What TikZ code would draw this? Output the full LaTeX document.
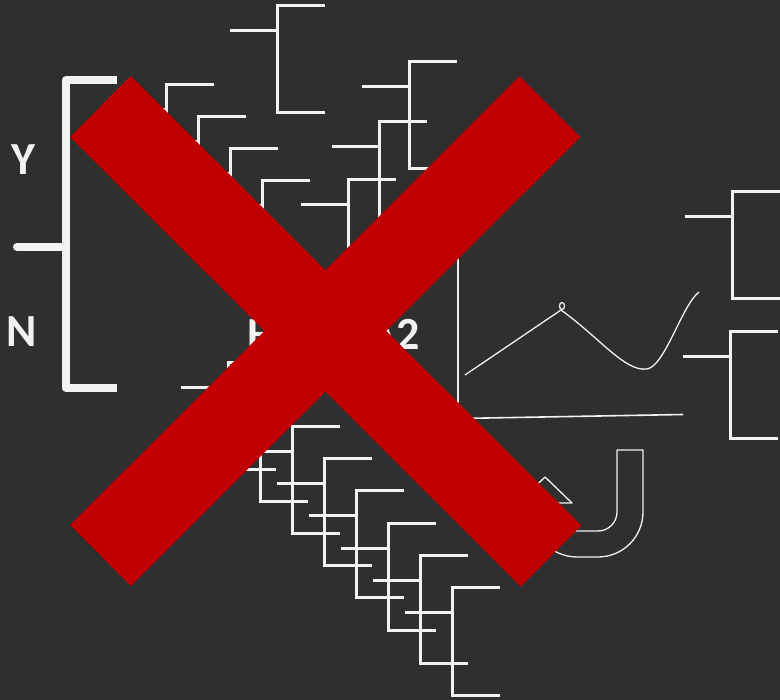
\documentclass[tikz,border=0pt]{standalone}
\usepackage{fontspec}
\setmainfont{Carlito}
\definecolor{bg}{HTML}{2F2F2F}
\definecolor{wline}{HTML}{F2F2F2}
\definecolor{xred}{HTML}{C00000}
\tikzset{
  thinline/.style={draw=wline, line width=3pt},
  boldline/.style={draw=wline, line width=8pt, line join=round},
  chartline/.style={draw=wline, line width=1.6pt},
  curveline/.style={draw=wline, line width=1.3pt, line join=round},
  crossband/.style={draw=xred, line width=86pt},
  biglabel/.style={text=wline, font=\bfseries\fontsize{46}{46}\selectfont, inner sep=0pt},
  brk/.pic={\draw[thinline] (-47.5,24.5) -- (0,24.5) (48,0) -- (0,0) -- (0,107) -- (48,107);}
}
\begin{document}
\begin{tikzpicture}[x=1pt,y=-1pt]
\useasboundingbox (0,0) rectangle (780,700);
\fill[bg] (0,0) rectangle (780,700);

% big Y/N bracket
\draw[boldline] (117,80) -- (66,80) -- (66,388) -- (117,388);
\draw[boldline, line cap=round] (17,247) -- (66,247);
\node[biglabel, anchor=base] (Y) at (23.5,175) {Y};
\node[biglabel, anchor=base] (N) at (22,347) {N};

% upper stand-alone brackets
\pic at (277,6) {brk};
\pic at (409,62) {brk};
\pic at (379,122) {brk};
\pic at (348,180) {brk};

% upper-left cascade
\pic at (166,85) {brk};
\pic at (198,117) {brk};
\pic at (230,149) {brk};
\pic at (262,181) {brk};

% lower cascade
\pic at (228,363) {brk};
\pic at (260,395) {brk};
\pic at (292,427) {brk};
\pic at (324,459) {brk};
\pic at (356,491) {brk};
\pic at (388,524) {brk};
\pic at (420,556) {brk};
\pic at (452,588) {brk};

% right brackets
\pic at (732,192) {brk};
\pic at (730,332) {brk};

% gene label
\node[biglabel, anchor=base west] (gene) at (247,350) {H\kern7.5pt M\kern7.5pt G\kern7.5pt A2};

% chart
\draw[chartline] (458,200) -- (458,403);
\draw[chartline] (458,418.5) -- (683,414.5);
\draw[curveline] (465,375) -- (561,310) .. controls (600,338) and (625,372) .. (647,369) .. controls (665,366) and (682,305) .. (699,292);
\draw[curveline] (562,306) ellipse [x radius=2.5, y radius=3.5];

% U-turn arrow outline
\draw[curveline] (643,450) -- (643,512) arc[start angle=0,end angle=90,radius=45]
  -- (577,557) arc[start angle=90,end angle=180,radius=45]
  -- (532,503) -- (518,503) -- (545,477) -- (572,503) -- (558,503) -- (558,512)
  arc[start angle=180,end angle=90,radius=19] -- (598,531)
  arc[start angle=90,end angle=0,radius=19] -- (617,450) -- cycle;

% red cross
\draw[crossband] (100.5,106.5) -- (551,556);
\draw[crossband] (550,106.5) -- (100.5,555.5);
\end{tikzpicture}
\end{document}
